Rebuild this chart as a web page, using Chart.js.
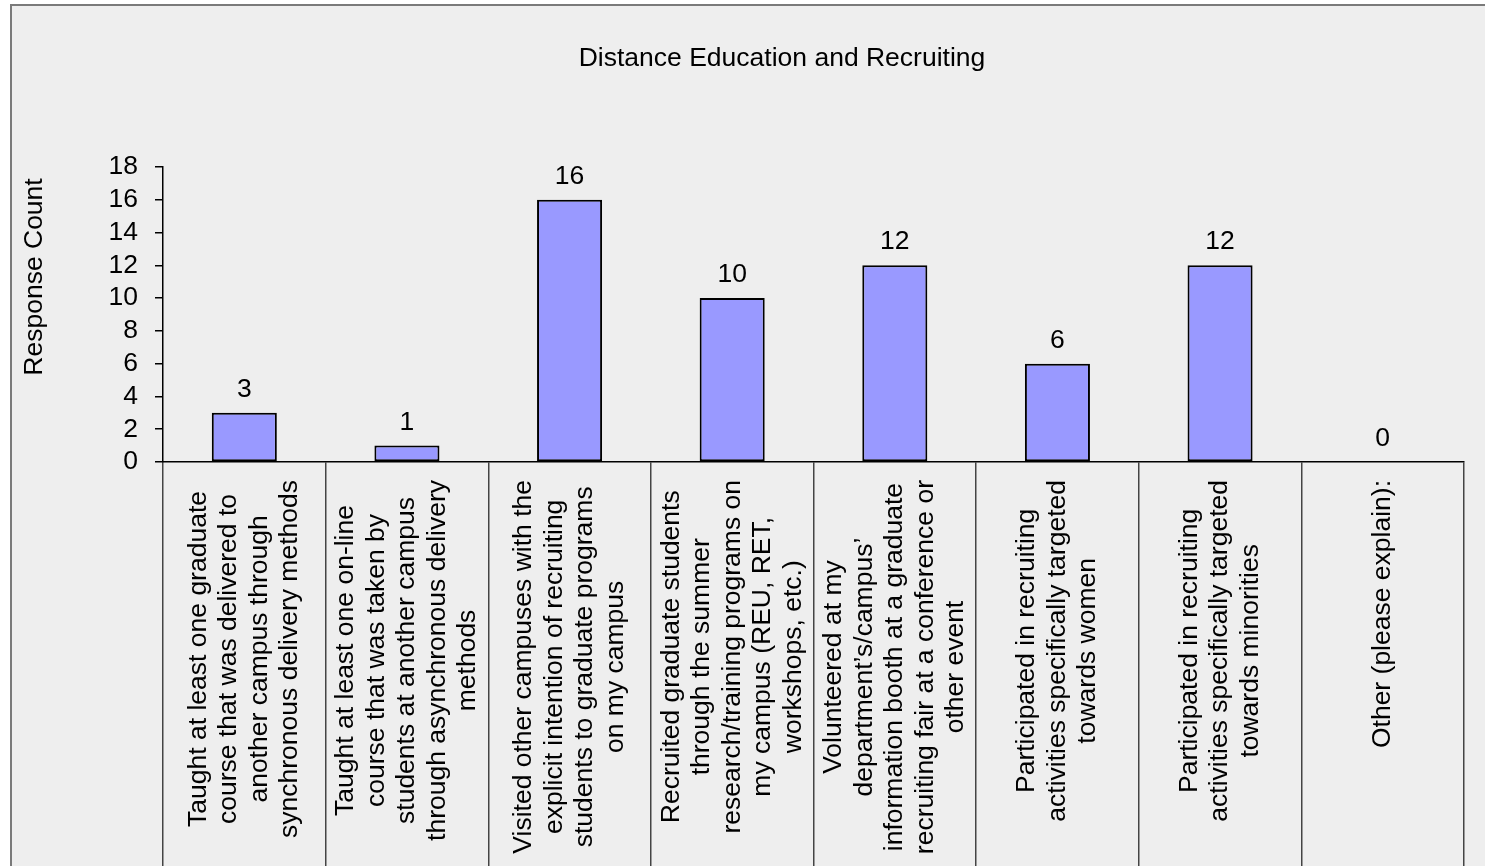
<!DOCTYPE html>
<html>
<head>
<meta charset="utf-8">
<title>Distance Education and Recruiting</title>
<script src="https://cdn.jsdelivr.net/npm/chart.js@4/dist/chart.umd.min.js"></script>
<style>
  html, body { margin: 0; padding: 0; background: #ffffff; overflow: hidden; }
  canvas { display: block; }
</style>
</head>
<body>
<canvas id="recruitingChart" width="1485" height="866" style="width:1485px;height:866px"></canvas>
<script>
// Datos del gráfico
const chartTitle = 'Distance Education and Recruiting';
const yAxisTitle = 'Response Count';
const categorias = [
    ['Taught at least one graduate', 'course that was delivered to', 'another campus through', 'synchronous delivery methods'],
    ['Taught at least one on-line', 'course that was taken by', 'students at another campus', 'through asynchronous delivery', 'methods'],
    ['Visited other campuses with the', 'explicit intention of recruiting', 'students to graduate programs', 'on my campus'],
    ['Recruited graduate students', 'through the summer', 'research/training programs on', 'my campus (REU, RET,', 'workshops, etc.)'],
    ['Volunteered at my', 'department\u2019s/campus\u2019', 'information booth at a graduate', 'recruiting fair at a conference or', 'other event'],
    ['Participated in recruiting', 'activities specifically targeted', 'towards women'],
    ['Participated in recruiting', 'activities specifically targeted', 'towards minorities'],
    ['Other (please explain):']
];
const respuestas = [3, 1, 16, 10, 12, 6, 12, 0];
const yMin = 0;
const yMax = 18;
const yPaso = 2;

const FONT = "'Liberation Sans', Arial, Helvetica, sans-serif";
const TAM = 26.5;
Chart.defaults.font.family = FONT;
Chart.defaults.font.size = TAM;
Chart.defaults.color = '#000';

// Fondo, título, etiquetas del eje X y valores sobre las barras
const capaTexto = {
    id: 'capaTexto',
    beforeDraw(chart) {
        const ctx = chart.ctx;
        ctx.save();
        ctx.fillStyle = '#ffffff';
        ctx.fillRect(0, 0, chart.width, chart.height);
        ctx.fillStyle = '#eeeeee';
        ctx.fillRect(10, 4, chart.width, chart.height);
        ctx.strokeStyle = '#7a7a7a';
        ctx.lineWidth = 2;
        ctx.beginPath();
        ctx.moveTo(11, chart.height);
        ctx.lineTo(11, 5);
        ctx.lineTo(chart.width, 5);
        ctx.stroke();
        ctx.restore();
    },
    afterDraw(chart) {
        const ctx = chart.ctx;
        const xScale = chart.scales.x;
        const area = chart.chartArea;
        ctx.save();
        ctx.fillStyle = '#000';
        ctx.font = TAM + 'px ' + FONT;

        // título
        ctx.textAlign = 'center';
        ctx.textBaseline = 'alphabetic';
        ctx.fillText(chartTitle, 782, 66);

        // título del eje Y
        ctx.save();
        ctx.translate(42, 277);
        ctx.rotate(-Math.PI / 2);
        ctx.fillText(yAxisTitle, 0, 0);
        ctx.restore();

        // etiquetas de categorías (giradas, líneas centradas entre sí)
        const altoLinea = 30.5;
        categorias.forEach((lineas, i) => {
            const cx = xScale.getPixelForValue(i);
            const maxAncho = Math.max(...lineas.map(l => ctx.measureText(l).width));
            const centroY = area.bottom + 18 + maxAncho / 2;
            ctx.save();
            ctx.translate(cx, centroY);
            ctx.rotate(-Math.PI / 2);
            ctx.textAlign = 'center';
            ctx.textBaseline = 'middle';
            lineas.forEach((linea, j) => {
                const off = (j - (lineas.length - 1) / 2) * altoLinea;
                ctx.fillText(linea, 0, off);
            });
            ctx.restore();
        });
        ctx.restore();
    },
    afterDatasetsDraw(chart) {
        const ctx = chart.ctx;
        const meta = chart.getDatasetMeta(0);
        ctx.save();
        ctx.fillStyle = '#000';
        ctx.font = TAM + 'px ' + FONT;
        ctx.textAlign = 'center';
        ctx.textBaseline = 'alphabetic';
        meta.data.forEach((bar, i) => {
            ctx.fillText(String(respuestas[i]), bar.x, bar.y - 16);
        });
        ctx.restore();
    }
};

const ctx = document.getElementById('recruitingChart').getContext('2d');
new Chart(ctx, {
    type: 'bar',
    data: {
        labels: categorias,
        datasets: [{
            label: yAxisTitle,
            data: respuestas,
            backgroundColor: '#9999ff',
            borderColor: '#000000',
            borderWidth: 2,
            borderSkipped: false,
            categoryPercentage: 1.0,
            barPercentage: 0.4
        }]
    },
    options: {
        responsive: false,
        animation: false,
        devicePixelRatio: 1,
        layout: {
            padding: { left: 103, right: 21, top: 167, bottom: 0 }
        },
        plugins: {
            legend: { display: false },
            tooltip: { enabled: false },
            title: { display: false }
        },
        scales: {
            x: {
                offset: true,
                ticks: { display: false },
                grid: {
                    offset: true,
                    drawOnChartArea: false,
                    drawTicks: true,
                    tickLength: 404,
                    color: '#444',
                    lineWidth: 1.5
                },
                border: { color: '#000', width: 1.5 }
            },
            y: {
                min: yMin,
                max: yMax,
                ticks: {
                    stepSize: yPaso,
                    autoSkip: false,
                    padding: 17,
                    color: '#000',
                    font: { size: TAM }
                },
                grid: {
                    drawOnChartArea: false,
                    drawTicks: true,
                    tickLength: 8,
                    color: '#000',
                    lineWidth: 1.5
                },
                border: { color: '#000', width: 1.5 },
                afterFit(scale) { scale.width = 60; }
            }
        }
    },
    plugins: [capaTexto]
});
</script>
</body>
</html>
